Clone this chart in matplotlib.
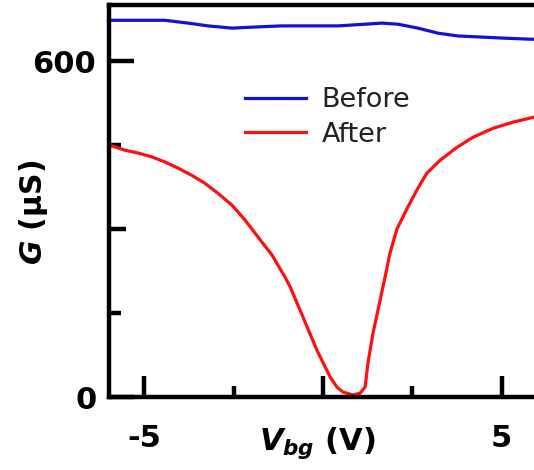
import numpy as np
import matplotlib
matplotlib.use('Agg')
import matplotlib.pyplot as plt

plt.rcParams['mathtext.fontset'] = 'custom'
plt.rcParams['mathtext.it'] = 'DejaVu Sans:italic:bold'
plt.rcParams['mathtext.bf'] = 'DejaVu Sans:bold'
plt.rcParams['mathtext.rm'] = 'DejaVu Sans:bold'

# %% data

vbg_before = [-5.91, -5.18, -4.43, -3.78, -3.22, -2.55, -1.90, -1.15, -0.31, 0.42, 1.18,
              1.65, 2.10, 2.66, 3.22, 3.78, 4.45, 5.10, 5.91]
g_before = [673, 673, 673, 668, 663, 659, 661, 663, 663, 663, 666,
            668, 666, 659, 650, 645, 643, 641, 639]

vbg_after = [-5.98, -5.55, -5.18, -4.79, -4.43, -4.06, -3.67, -3.31, -2.94, -2.55, -2.18,
             -1.82, -1.43, -1.06, -0.92, -0.56, -0.17, 0.20, 0.39, 0.56, 0.84, 1.04,
             1.18, 1.26, 1.40, 1.60, 1.74, 1.88, 2.07, 2.35, 2.63, 2.91, 3.28, 3.75,
             4.20, 4.76, 5.32, 5.91]
g_after = [450, 441, 436, 429, 420, 409, 396, 382, 364, 343, 316,
           286, 254, 214, 197, 143, 84, 36, 18, 9, 4, 7,
           18, 61, 114, 173, 215, 258, 300, 336, 370, 400, 423, 446,
           464, 480, 491, 500]

x_major = [-5, 0, 5]
x_major_labels = ['-5', '', '5']
x_minor = [-2.5, 2.5]
y_major = [0, 300, 600]
y_major_labels = ['0', '', '600']
y_minor = [150, 450]

# %% plot

fig = plt.figure(figsize=(5.34, 4.70), dpi=100)
ax = fig.add_axes([0.205, 0.155, 0.795, 0.834])

ax.plot(vbg_before, g_before, color='#1212d6', lw=2.3, label='Before')
ax.plot(vbg_after, g_after, color='#ff1010', lw=2.3, label='After')

ax.set_xlim(-5.98, 5.91)
ax.set_ylim(0, 700)

for side in ['left', 'bottom', 'top']:
    ax.spines[side].set_linewidth(3.2)
ax.spines['right'].set_visible(False)

ax.set_xticks(x_major)
ax.set_xticklabels(x_major_labels)
ax.set_xticks(x_minor, minor=True)
ax.set_yticks(y_major)
ax.set_yticklabels(y_major_labels)
ax.set_yticks(y_minor, minor=True)

ax.tick_params(axis='both', which='both', direction='in', width=3.2, labelsize=22)
ax.tick_params(axis='x', which='major', length=15, pad=19)
ax.tick_params(axis='x', which='minor', length=8)
ax.tick_params(axis='y', which='major', length=18, pad=9.5)
ax.tick_params(axis='y', which='minor', length=8.5)
ax.yaxis.get_major_ticks()[1].tick1line.set_markersize(12)
for lab in ax.get_xticklabels() + ax.get_yticklabels():
    lab.set_fontweight('bold')

ax.set_xlabel(r'$V_{bg}$ (V)', fontsize=22, fontweight='bold')
ax.xaxis.set_label_coords(0.49, -0.071)
ax.set_ylabel(r'$G$ (μS)', fontsize=21.5, fontweight='bold', va='center')
ax.yaxis.set_label_coords(-0.18, 0.472)

ax.legend(loc='upper left', bbox_to_anchor=(0.319, 0.79), frameon=False,
          fontsize=19.5, handlelength=2.26, handletextpad=0.58, labelspacing=0.30,
          borderpad=0, borderaxespad=0, labelcolor='#222222')

fig.savefig('out.png', dpi=100)
